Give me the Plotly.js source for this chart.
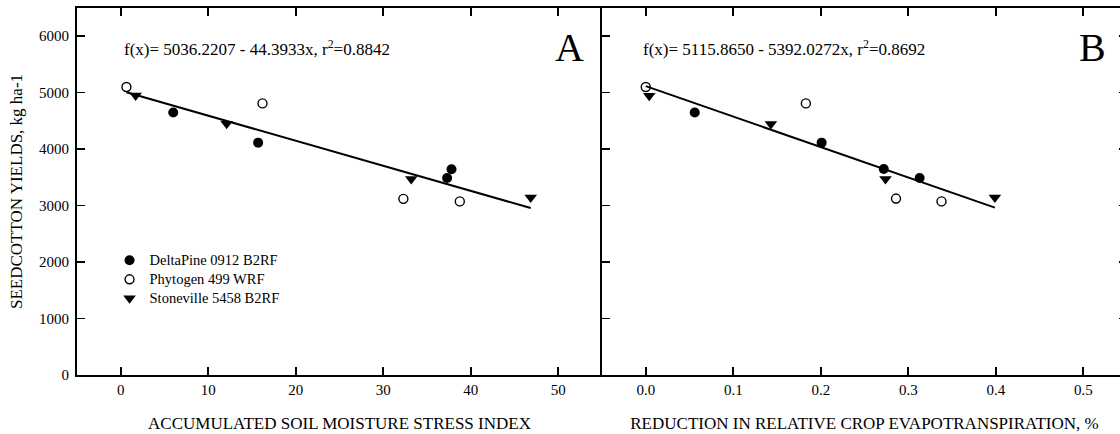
<!DOCTYPE html>
<html>
<head>
<meta charset="utf-8">
<script src="https://cdn.plot.ly/plotly-3.0.1.min.js"></script>
<style>
html,body{margin:0;padding:0;background:#fff;overflow:hidden;}
#chart{width:1140px;height:434px;}
</style>
</head>
<body>
<div id="chart"></div>
<script>
// ---- Data ----
const seriesNames = ["DeltaPine 0912 B2RF", "Phytogen 499 WRF", "Stoneville 5458 B2RF"];

// Panel A: accumulated soil moisture stress index
const deltaA_x = [6.0, 15.7, 37.3, 37.8];
const deltaA_y = [4650, 4115, 3490, 3645];
const phytoA_x = [0.65, 16.2, 32.3, 38.75];
const phytoA_y = [5100, 4810, 3120, 3075];
const stoneA_x = [1.7, 12.1, 33.2, 46.85];
const stoneA_y = [4950, 4450, 3470, 3145];

// Panel B: reduction in relative crop evapotranspiration
const deltaB_x = [0.056, 0.201, 0.272, 0.313];
const deltaB_y = [4650, 4115, 3650, 3490];
const phytoB_x = [0.0, 0.183, 0.286, 0.338];
const phytoB_y = [5100, 4810, 3125, 3075];
const stoneB_x = [0.004, 0.143, 0.274, 0.399];
const stoneB_y = [4945, 4445, 3470, 3145];

// Regression fits shown on the chart
const fitA = [5036.2207, -44.3933];   // intercept, slope
const fitB = [5115.8650, -5392.0272];
const fitA_text = "f(x)= 5036.2207 - 44.3933x, r<sup>2</sup>=0.8842";
const fitB_text = "f(x)= 5115.8650 - 5392.0272x, r<sup>2</sup>=0.8692";

const yTicks = [0, 1000, 2000, 3000, 4000, 5000, 6000];
const xTicksA = [0, 10, 20, 30, 40, 50];
const xTicksB = [0.0, 0.1, 0.2, 0.3, 0.4, 0.5];
const xTickTextB = ["0.0", "0.1", "0.2", "0.3", "0.4", "0.5"];

// ---- Build ----
function fitLine(xsList, fit) {
  const all = [].concat(...xsList);
  const x0 = Math.min(...all), x1 = Math.max(...all);
  return {x: [x0, x1], y: [fit[0] + fit[1] * x0, fit[0] + fit[1] * x1]};
}
const FONT = "Liberation Serif";
const legName = n => '<span style="font-size:14.5px">' + n + '</span>';
const mk = [
  {symbol: "circle", size: 10, color: "#000", line: {width: 0}},
  {symbol: "circle-open", size: 9, color: "#000", line: {width: 1.4, color: "#000"}},
  {symbol: "triangle-down", size: 11, color: "#000", line: {width: 0}}
];
const lineA = fitLine([deltaA_x, phytoA_x, stoneA_x], fitA);
const lineB = fitLine([deltaB_x, phytoB_x, stoneB_x], fitB);

const traces = [
  {x: lineA.x, y: lineA.y, mode: "lines", line: {color: "#000", width: 2}, showlegend: false, xaxis: "x", yaxis: "y"},
  {x: lineB.x, y: lineB.y, mode: "lines", line: {color: "#000", width: 2}, showlegend: false, xaxis: "x2", yaxis: "y2"},
  {x: deltaA_x, y: deltaA_y, mode: "markers", name: legName(seriesNames[0]), marker: mk[0], xaxis: "x", yaxis: "y"},
  {x: phytoA_x, y: phytoA_y, mode: "markers", name: legName(seriesNames[1]), marker: mk[1], xaxis: "x", yaxis: "y"},
  {x: stoneA_x, y: stoneA_y, mode: "markers", name: legName(seriesNames[2]), marker: mk[2], xaxis: "x", yaxis: "y"},
  {x: deltaB_x, y: deltaB_y, mode: "markers", name: seriesNames[0], marker: mk[0], showlegend: false, xaxis: "x2", yaxis: "y2"},
  {x: phytoB_x, y: phytoB_y, mode: "markers", name: seriesNames[1], marker: mk[1], showlegend: false, xaxis: "x2", yaxis: "y2"},
  {x: stoneB_x, y: stoneB_y, mode: "markers", name: seriesNames[2], marker: mk[2], showlegend: false, xaxis: "x2", yaxis: "y2"}
];

const axBase = {
  showgrid: false, zeroline: false, showline: true, linecolor: "#000", linewidth: 2,
  ticks: "inside", ticklen: 8, tickwidth: 1.6, tickcolor: "#000",
  tickfont: {family: FONT, size: 15, color: "#000"}
};

const layout = {
  width: 1140, height: 434,
  margin: {l: 77, r: 13, t: 8, b: 59},
  paper_bgcolor: "#fff", plot_bgcolor: "#fff",
  font: {family: FONT, color: "#000"},
  showlegend: true,
  legend: {x: 0.031, y: 0.352, xanchor: "left", yanchor: "top", bgcolor: "rgba(0,0,0,0)",
           font: {family: FONT, size: 12.2, color: "#000"}, tracegroupgap: 0, itemsizing: "trace"},
  xaxis: Object.assign({}, axBase, {domain: [0, 0.5], range: [-5, 55], tickvals: xTicksA, mirror: "ticks",
    title: {text: "ACCUMULATED SOIL MOISTURE STRESS INDEX", font: {family: FONT, size: 17, color: "#000"}, standoff: 20}}),
  yaxis: Object.assign({}, axBase, {domain: [0, 1], range: [0, 6500], tickvals: yTicks, mirror: false, anchor: "x",
    ticklabelstandoff: 3,
    title: {text: "SEEDCOTTON YIELDS, kg ha-1", font: {family: FONT, size: 17, color: "#000"}, standoff: 12}}),
  xaxis2: Object.assign({}, axBase, {domain: [0.5, 1], range: [-0.05, 0.55], tickvals: xTicksB, ticktext: xTickTextB,
    mirror: "ticks", anchor: "y2",
    title: {text: "REDUCTION IN RELATIVE CROP EVAPOTRANSPIRATION, %", font: {family: FONT, size: 17, color: "#000"}, standoff: 20}}),
  yaxis2: Object.assign({}, axBase, {domain: [0, 1], range: [0, 6500], tickvals: yTicks, mirror: "ticks",
    anchor: "x2", showticklabels: false}),
  annotations: [
    {xref: "x domain", yref: "y domain", x: 0.0853, y: 0.891, xanchor: "left", yanchor: "middle", showarrow: false,
     text: fitA_text, font: {family: FONT, size: 17, color: "#000"}},
    {xref: "x2 domain", yref: "y2 domain", x: 0.075, y: 0.891, xanchor: "left", yanchor: "middle", showarrow: false,
     text: fitB_text, font: {family: FONT, size: 17, color: "#000"}},
    {xref: "x domain", yref: "y domain", x: 0.938, y: 0.892, xanchor: "center", yanchor: "middle", showarrow: false,
     text: "A", font: {family: FONT, size: 40, color: "#000"}},
    {xref: "x2 domain", yref: "y2 domain", x: 0.935, y: 0.892, xanchor: "center", yanchor: "middle", showarrow: false,
     text: "B", font: {family: FONT, size: 40, color: "#000"}}
  ]
};

Plotly.newPlot("chart", traces, layout, {displayModeBar: false, staticPlot: true});
</script>
</body>
</html>
